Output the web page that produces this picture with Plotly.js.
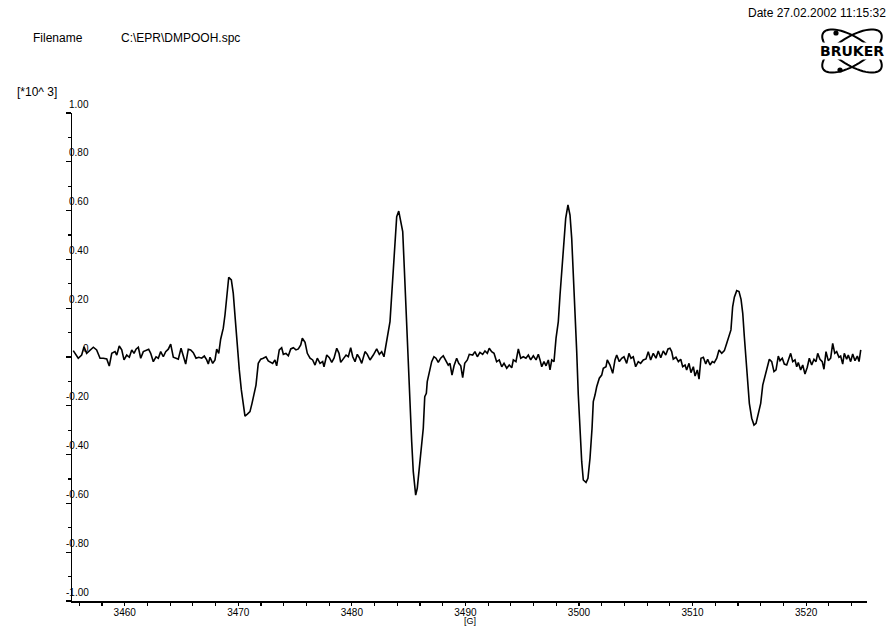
<!DOCTYPE html>
<html>
<head>
<meta charset="utf-8">
<script src="https://cdn.plot.ly/plotly-3.0.1.min.js"></script>
<style>html,body{margin:0;padding:0;background:#fff;}#chart{width:891px;height:626px;}</style>
</head>
<body>
<div id="chart"></div>
<script>
// Magnetic field [G]
const field = [
3455.47,3455.91,3456.21,3456.42,3456.65,3456.94,3457.24,3457.53,3457.83,3458.12,3458.42,3458.64,3458.86,3459.15,3459.30,3459.52,3459.74,3459.94,3460.18,3460.41,
3460.62,3460.82,3461.00,3461.20,3461.41,3461.64,3461.88,3462.11,3462.29,3462.52,3462.76,3462.96,3463.17,3463.40,3463.61,3463.84,3464.05,3464.28,3464.52,3464.72,
3464.96,3465.16,3465.37,3465.60,3465.81,3466.04,3466.28,3466.52,3466.78,3467.01,3467.22,3467.36,3467.51,3467.75,3467.95,3468.10,3468.28,3468.45,3468.68,3468.83,
3468.98,3469.16,3469.39,3469.56,3469.74,3469.92,3470.09,3470.27,3470.44,3470.59,3470.80,3471.03,3471.21,3471.39,3471.56,3471.76,3471.98,3472.20,3472.44,3472.64,
3472.79,3473.03,3473.23,3473.38,3473.61,3473.82,3473.97,3474.20,3474.41,3474.62,3474.85,3475.08,3475.29,3475.50,3475.64,3475.88,3476.08,3476.32,3476.55,3476.76,
3476.96,3477.20,3477.43,3477.55,3477.79,3478.02,3478.23,3478.43,3478.67,3478.87,3479.02,3479.25,3479.49,3479.69,3479.90,3480.08,3480.28,3480.48,3480.66,3480.87,
3481.16,3481.36,3481.60,3481.89,3482.19,3482.42,3482.63,3482.83,3483.01,3483.21,3483.36,3483.51,3483.65,3483.80,3483.95,3484.13,3484.30,3484.48,3484.62,3484.77,
3484.88,3485.01,3485.12,3485.27,3485.41,3485.62,3485.76,3485.94,3486.12,3486.29,3486.42,3486.56,3486.64,3486.82,3487.03,3487.23,3487.41,3487.61,3487.82,3488.05,
3488.29,3488.49,3488.64,3488.82,3489.00,3489.23,3489.41,3489.59,3489.76,3489.94,3490.17,3490.34,
3490.64,3490.84,3491.05,3491.28,3491.52,3491.72,3491.93,3492.10,3492.31,3492.52,3492.75,3492.98,3493.20,3493.40,3493.64,3493.86,3494.08,3494.22,3494.45,3494.66,
3494.87,3495.10,3495.33,3495.54,3495.75,3495.98,3496.22,3496.42,3496.57,3496.72,3496.92,3497.10,3497.30,3497.45,3497.60,3497.80,3497.98,3498.18,3498.33,3498.48,
3498.62,3498.83,3499.03,3499.21,3499.36,3499.50,3499.65,3499.80,3499.94,3500.09,3500.24,3500.38,3500.62,3500.79,3500.97,3501.15,3501.26,3501.41,3501.56,3501.79,
3502.00,3502.14,3502.38,3502.49,3502.73,3502.97,3503.17,3503.32,3503.55,3503.76,3503.96,3504.20,3504.40,3504.58,3504.78,3504.99,3505.22,3505.43,3505.66,3505.90,
3506.10,3506.31,3506.54,3506.78,3506.98,3507.20,3507.42,3507.64,3507.84,
3508.01,3508.16,3508.30,3508.54,3508.75,3508.96,3509.13,3509.34,3509.48,3509.69,3509.86,3510.07,3510.22,3510.42,3510.57,3510.74,3510.95,3511.16,3511.33,3511.54,
3511.74,3511.91,3512.13,3512.33,3512.57,3512.80,3513.01,3513.21,3513.38,3513.53,3513.68,3513.89,3514.09,3514.27,3514.42,3514.56,3514.71,3514.86,3515.00,3515.21,
3515.41,3515.59,3515.79,3516.00,3516.18,3516.38,3516.58,3516.76,3516.97,3517.17,3517.35,3517.55,3517.70,3517.90,3518.08,3518.29,3518.49,3518.64,3518.82,3519.02,
3519.17,3519.31,3519.52,3519.70,3519.90,3520.10,3520.28,3520.49,3520.69,3520.87,3521.02,3521.22,3521.42,3521.57,3521.75,3521.95,3522.16,3522.34,3522.52,3522.69,
3522.89,3523.04,3523.22,3523.36,3523.57,3523.71,3523.92,3524.10,3524.30,3524.51,3524.66,3524.81
];
// EPR signal intensity [*10^3]
const intensity = [
0.026,-0.005,0.008,0.042,0.015,0.029,0.040,0.029,-0.005,-0.005,-0.008,-0.037,0.015,0.022,0.008,0.045,0.029,-0.012,0.008,-0.001,
0.029,0.015,0.032,0.040,-0.005,0.022,0.026,0.032,0.015,-0.019,0.001,-0.005,0.022,0.001,0.022,0.032,0.053,-0.001,-0.005,-0.009,
0.036,0.001,-0.029,0.032,0.029,0.018,-0.005,-0.001,-0.005,0.004,-0.012,-0.029,-0.001,-0.026,-0.012,0.032,0.015,0.073,0.118,0.172,
0.247,0.327,0.316,0.261,0.152,0.029,-0.053,-0.135,-0.190,-0.242,-0.234,-0.224,-0.190,-0.149,-0.115,-0.026,-0.009,-0.005,0.001,-0.016,
-0.019,-0.026,-0.012,-0.036,0.029,0.038,0.011,0.015,0.005,0.033,0.038,0.029,0.033,0.049,0.077,0.060,0.015,-0.005,-0.012,-0.033,
-0.005,-0.026,-0.019,-0.040,0.008,-0.003,-0.022,-0.005,0.036,0.015,-0.022,-0.008,0.008,0.001,0.038,0.001,-0.019,0.011,-0.003,-0.026,
0.022,0.011,-0.012,0.008,0.033,0.011,0.022,0.001,0.056,0.111,0.145,0.254,0.364,0.486,0.575,0.598,0.561,0.514,0.364,0.186,
0.049,-0.074,-0.210,-0.347,-0.470,-0.566,-0.538,-0.443,-0.374,-0.292,-0.163,-0.149,-0.101,-0.060,-0.019,0.001,-0.005,-0.022,-0.005,0.005,
-0.019,-0.033,-0.026,-0.074,-0.036,-0.005,-0.026,-0.036,-0.085,-0.026,-0.012,0.011,
0.008,0.022,0.001,0.019,0.011,0.025,0.015,0.036,0.022,0.015,-0.019,-0.012,-0.040,-0.026,-0.046,-0.033,-0.044,-0.012,-0.019,0.033,
-0.005,0.001,-0.005,0.008,-0.012,0.005,-0.012,0.011,-0.012,-0.040,-0.019,-0.036,-0.012,-0.053,-0.012,-0.019,0.077,0.145,0.254,0.350,
0.459,0.568,0.623,0.582,0.486,0.350,0.213,0.022,-0.156,-0.306,-0.429,-0.504,-0.514,-0.497,-0.415,-0.292,-0.183,-0.156,-0.122,-0.087,
-0.074,-0.046,-0.040,-0.012,-0.033,-0.067,-0.012,0.008,-0.019,-0.005,0.001,-0.026,0.015,-0.005,0.001,-0.040,-0.019,-0.026,-0.012,-0.008,
0.022,-0.012,0.015,-0.005,0.025,-0.003,0.025,0.008,0.033,
0.036,0.022,-0.009,-0.001,-0.019,-0.009,-0.040,-0.033,-0.053,-0.026,-0.064,-0.040,-0.078,-0.053,-0.091,-0.005,-0.001,-0.029,-0.009,-0.033,
-0.019,-0.023,-0.005,0.029,0.015,0.026,0.056,0.083,0.111,0.206,0.245,0.272,0.268,0.236,0.179,0.083,-0.026,-0.108,-0.190,-0.251,
-0.279,-0.272,-0.231,-0.190,-0.115,-0.081,-0.040,-0.009,-0.019,-0.060,-0.053,0.004,-0.015,-0.005,-0.029,-0.033,-0.005,0.015,-0.019,-0.012,
-0.040,-0.023,-0.053,-0.033,-0.070,-0.042,-0.005,-0.033,-0.009,-0.019,0.015,-0.009,-0.019,-0.050,0.022,-0.015,-0.005,0.056,0.015,0.022,
-0.001,0.004,-0.029,0.015,-0.009,0.008,-0.019,0.012,-0.015,0.004,-0.019,0.029
];
const xTickVals = [3460, 3470, 3480, 3490, 3500, 3510, 3520];
const xTickText = ["3460", "3470", "3480", "3490", "3500", "3510", "3520"];
const yTickVals = [1.0, 0.8, 0.6, 0.4, 0.2, 0, -0.2, -0.4, -0.6, -0.8, -1.0];
const yTickText = ["1.00", "0.80", "0.60", "0.40", "0.20", "0", "-0.20", "-0.40", "-0.60", "-0.80", "-1.00"];
const headerLeft = "Filename";
const headerFile = "C:\\EPR\\DMPOOH.spc";
const headerDate = "Date 27.02.2002 11:15:32";
const yUnit = "[*10^ 3]";
const xUnit = "[G]";
const logoText = "BRUKER";

// page-pixel helper for decorations (plot area: x 72..867, y 113..601)
function P(x, y) { return [(x - 72) / 795, (601 - y) / 488]; }
function ellipsePath(cx, cy, a, b, deg) {
  const r = deg * Math.PI / 180; let s = '';
  for (let i = 0; i <= 60; i++) {
    const t = i / 60 * 2 * Math.PI;
    const x = cx + a * Math.cos(t) * Math.cos(r) - b * Math.sin(t) * Math.sin(r);
    const y = cy + a * Math.cos(t) * Math.sin(r) + b * Math.sin(t) * Math.cos(r);
    const p = P(x, y);
    s += (i ? 'L' : 'M') + p[0].toFixed(5) + ',' + p[1].toFixed(5);
  }
  return s + 'Z';
}
function dot(x, y, rr) {
  const a = P(x - rr, y + rr), b = P(x + rr, y - rr);
  return {type: 'circle', xref: 'paper', yref: 'paper', x0: a[0], y0: a[1], x1: b[0], y1: b[1],
          fillcolor: 'black', line: {color: 'black', width: 0}};
}

const font = 'Liberation Sans, Arial, sans-serif';
const annotations = [];
yTickVals.forEach((v, i) => {
  annotations.push({xref: 'paper', yref: 'y', x: 0, y: v, xanchor: 'right', yanchor: 'middle',
    xshift: 19, yshift: 9, text: yTickText[i], showarrow: false, font: {family: font, size: 10, color: 'black'}});
});
function txt(x, y, text, anchor, size, bold) {
  const p = P(x, y);
  annotations.push({xref: 'paper', yref: 'paper', x: p[0], y: p[1], xanchor: anchor, yanchor: 'middle',
    text: bold ? '<b>' + text + '</b>' : text, showarrow: false,
    font: {family: bold ? 'DejaVu Sans, sans-serif' : font, size: size, color: 'black'},
    bgcolor: bold ? 'white' : 'rgba(0,0,0,0)', borderpad: 0});
}
txt(32, 38, headerLeft, 'left', 12);
txt(120, 38, headerFile, 'left', 12);
txt(887, 13, headerDate, 'right', 12);
txt(16, 92, yUnit, 'left', 12);
txt(470, 621, xUnit, 'center', 9);

const shapes = [
  {type: 'path', xref: 'paper', yref: 'paper', path: ellipsePath(852, 51, 34, 14, 32), line: {color: 'black', width: 2}},
  {type: 'path', xref: 'paper', yref: 'paper', path: ellipsePath(852, 51, 34, 14, -32), line: {color: 'black', width: 2}},
  dot(836, 33, 2.6), dot(840, 70, 2.6)
];
txt(852, 51, logoText, 'center', 14, true);

const trace = {x: field, y: intensity, type: 'scatter', mode: 'lines',
  line: {color: 'black', width: 1.6}, hoverinfo: 'skip'};

const layout = {
  width: 891, height: 626,
  margin: {l: 72, r: 24, t: 113, b: 25, pad: 0},
  paper_bgcolor: 'white', plot_bgcolor: 'white', showlegend: false,
  xaxis: {range: [3455.36, 3525.36], showgrid: false, zeroline: false, showline: true,
    linecolor: 'black', linewidth: 1.5, ticks: 'outside', ticklen: 3, tickwidth: 1.2, tickcolor: 'black',
    tickmode: 'array', tickvals: xTickVals, ticktext: xTickText, ticklabelstandoff: -2,
    tickfont: {family: font, size: 10, color: 'black'},
    minor: {tickmode: 'linear', tick0: 3456, dtick: 2, ticks: 'outside', ticklen: 3, tickcolor: 'black', tickwidth: 1.2, showgrid: false}},
  yaxis: {range: [-1, 1], showgrid: false, zeroline: false, showline: true,
    linecolor: 'black', linewidth: 1.5, ticks: 'outside', ticklen: 5, tickwidth: 1.2, tickcolor: 'black',
    tickmode: 'array', tickvals: yTickVals, showticklabels: false,
    minor: {tickmode: 'linear', tick0: 0.1, dtick: 0.2, ticks: 'outside', ticklen: 3, tickcolor: 'black', tickwidth: 1.2, showgrid: false}},
  annotations: annotations,
  shapes: shapes
};
Plotly.newPlot('chart', [trace], layout, {staticPlot: true, displayModeBar: false});
</script>
</body>
</html>
